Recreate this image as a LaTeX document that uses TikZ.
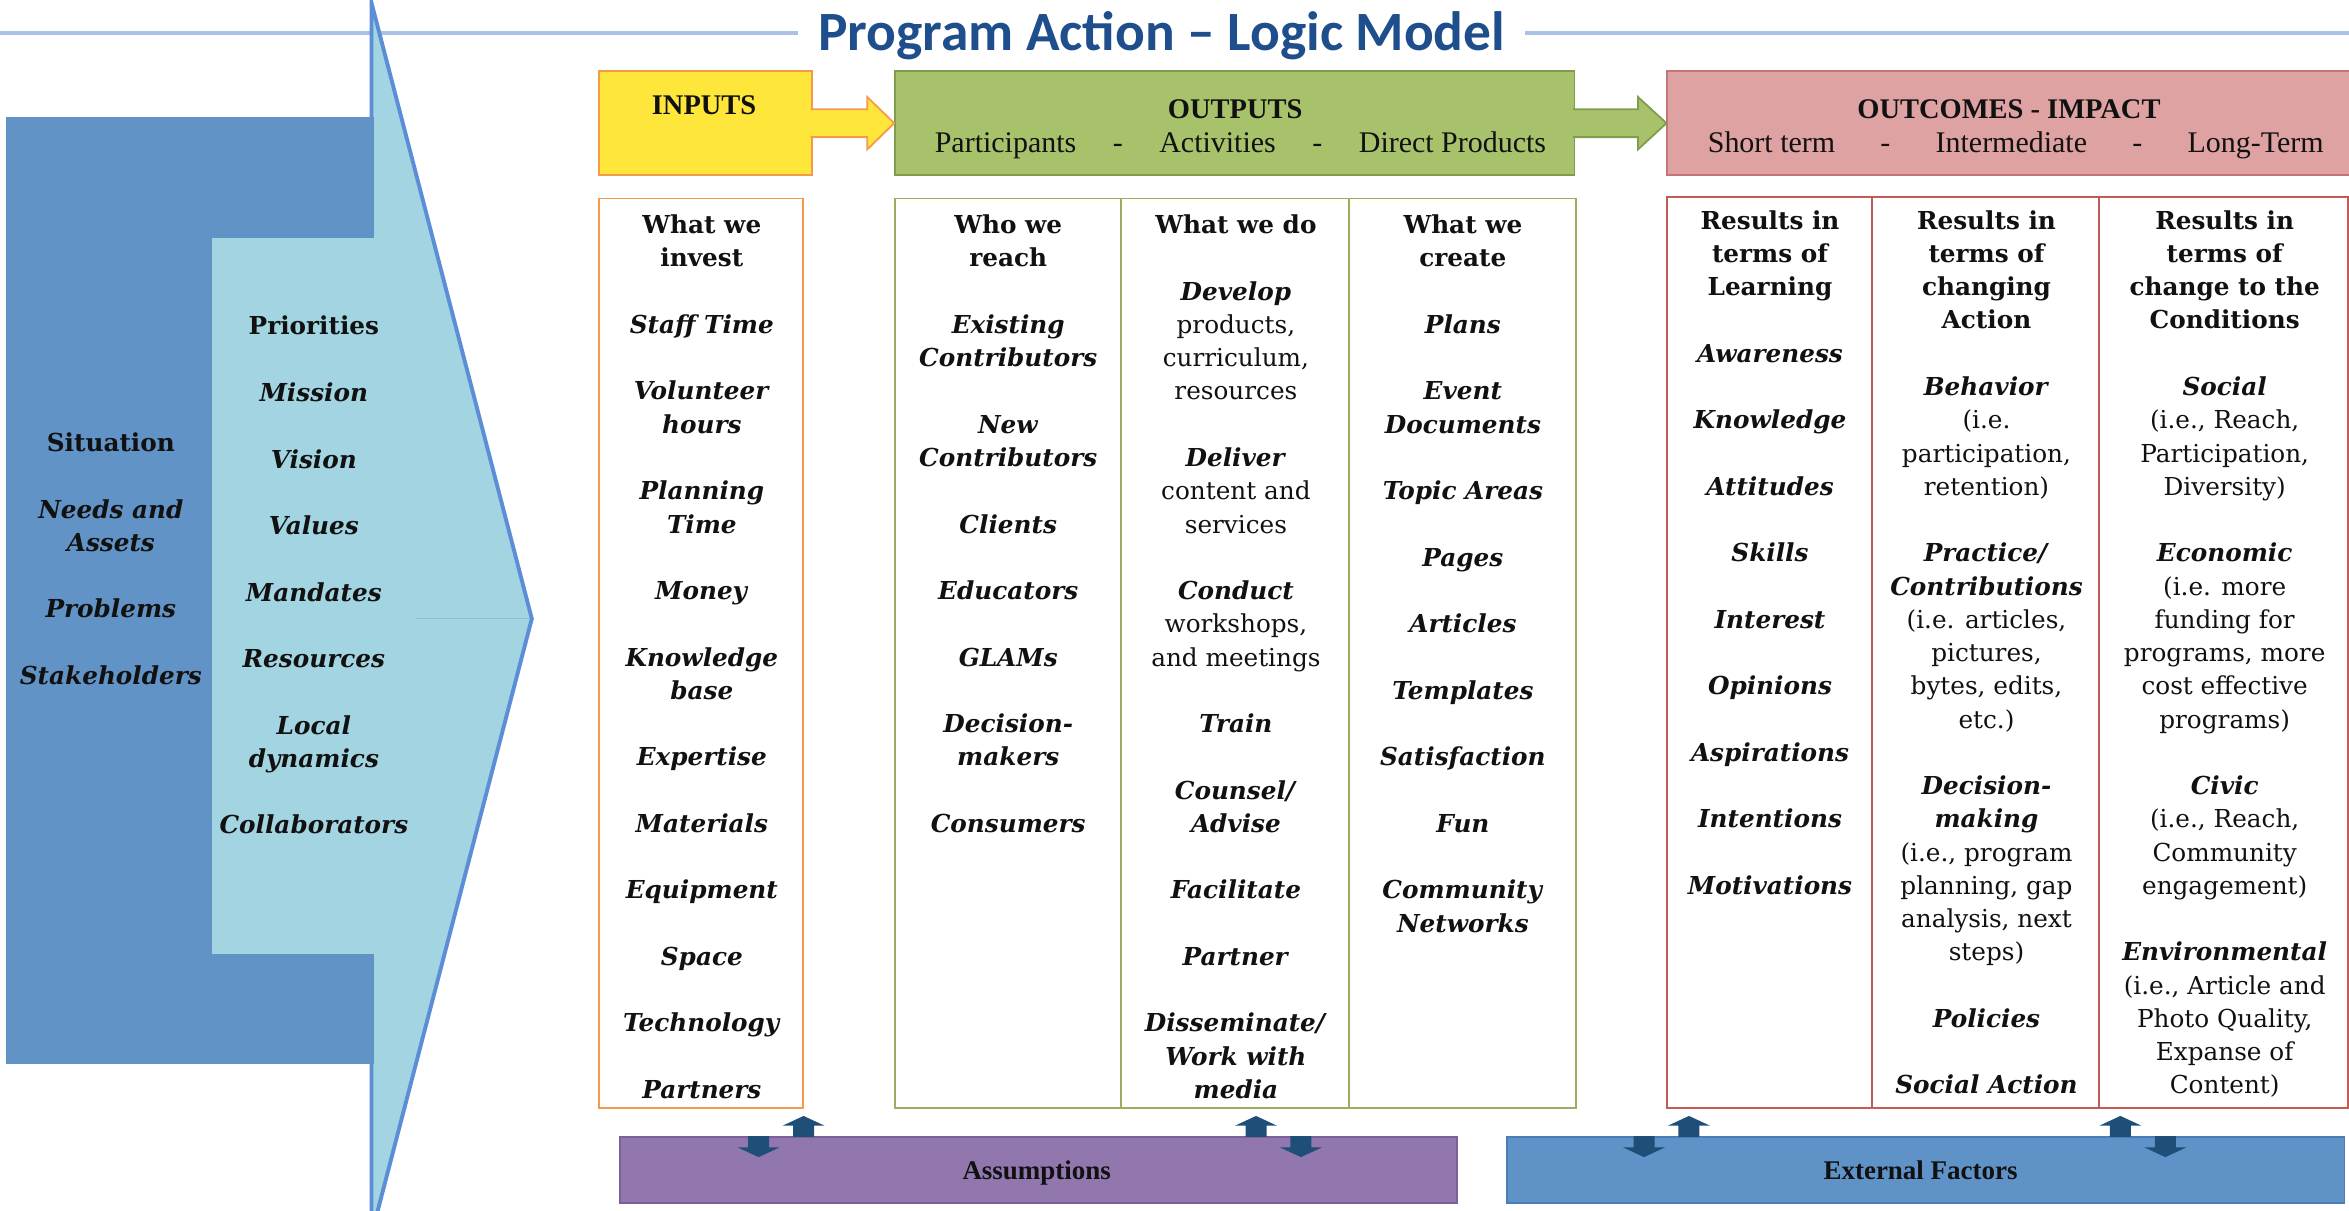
\documentclass[tikz,border=0pt]{standalone}
\usepackage{fontspec}
\setmainfont{DejaVu Serif}
\newfontfamily\hdrfont{Liberation Serif}
\newfontfamily\ttlfont{Carlito}
\usetikzlibrary{calc}

% palette
\definecolor{sitblue}{HTML}{6193C6}
\definecolor{prioblue}{HTML}{A2D4E2}
\definecolor{chevline}{HTML}{5B8ED6}
\definecolor{tipline}{HTML}{8FBFCF}
\definecolor{titleblue}{HTML}{1F4E8C}
\definecolor{ruleblue}{HTML}{A9C1E4}
\definecolor{inyellow}{HTML}{FFE63B}
\definecolor{inorange}{HTML}{F5994C}
\definecolor{outgreen}{HTML}{A7C26B}
\definecolor{outgreenline}{HTML}{819C4B}
\definecolor{tabgreen}{HTML}{9AAF5E}
\definecolor{outpink}{HTML}{DFA2A2}
\definecolor{outpinkline}{HTML}{C47676}
\definecolor{tabred}{HTML}{C25A57}
\definecolor{assumpurple}{HTML}{9177AD}
\definecolor{assumline}{HTML}{7A619A}
\definecolor{extblue}{HTML}{5F92C7}
\definecolor{extline}{HTML}{4A7CB6}
\definecolor{arrowdark}{HTML}{1F4E79}
\definecolor{ink}{HTML}{111111}

% column text helpers
\newcommand{\itb}[1]{\textit{#1}}
\newcommand{\rgl}[1]{{\mdseries #1}}
\newcommand{\lgap}{\\[22.2pt]}
\newcommand{\colfont}{\fontsize{16.5}{22.2}\selectfont\bfseries}
\newcommand{\coltext}[1]{\parbox[t]{210pt}{\centering\colfont #1}}

\begin{document}
\begin{tikzpicture}[x=1pt,y=-1pt,
  colnode/.style={anchor=base, inner sep=0pt, text=ink},
  hdrbox/.style={rectangle, line width=1.2pt, minimum height=69.5pt, inner sep=0pt},
  tabbox/.style={rectangle, fill=white, line width=1.3pt, minimum height=607pt, inner sep=0pt},
  hdrlabel/.style={anchor=base, inner sep=0pt, text=ink, font=\hdrfont\bfseries\fontsize{19}{22}\selectfont},
  hdrsub/.style={anchor=base, inner sep=0pt, text=ink, font=\hdrfont\fontsize{20}{22}\selectfont},
  ftbox/.style={rectangle, line width=1.2pt, minimum height=44pt, inner sep=0pt},
  ftlabel/.style={anchor=base, inner sep=0pt, text=ink, font=\hdrfont\bfseries\fontsize{18}{20}\selectfont},
  smallarr/.style={fill=arrowdark},
  yelarrow/.style={fill=inyellow, draw=inorange, line width=1.2pt, line join=miter},
  grnarrow/.style={fill=outgreen, draw=outgreenline, line width=1.2pt, line join=miter},
  divider/.style={line width=1.3pt}
]
\useasboundingbox (0,0) rectangle (1568,807.7);
\clip (0,0) rectangle (1568,807.7);

% ---------- title with rule ----------
\coordinate (ruleL) at (0,22);
\coordinate (ruleR) at (1568,22);
\node[anchor=base, inner xsep=13pt, inner ysep=0pt, text=titleblue,
      font=\ttlfont\bfseries\fontsize{37}{42}\selectfont] (title) at (775.5,34)
      {Program Action – Logic Model};
\draw[ruleblue, line width=2.2pt] (ruleL) -- (ruleL -| title.west);
\draw[ruleblue, line width=2.2pt] (ruleR -| title.east) -- (ruleR);

% ---------- situation / priorities chevron ----------
\fill[prioblue] (248,2) -- (355,413) -- (248,824) -- cycle;
\draw[chevline, line width=2.6pt, line join=miter] (248,2) -- (355,413) -- (248,824) -- cycle;
\fill[sitblue] (4,78) rectangle (249.6,710);
\fill[prioblue] (141.5,159) rectangle (249.6,637);
\draw[tipline, line width=0.8pt] (278,413) -- (353,413);

\node[colnode] (sitCol) at (74,301.5) {\coltext{Situation\lgap
  \itb{Needs and}\\ \itb{Assets}\lgap \itb{Problems}\lgap \itb{Stakeholders}}};
\node[colnode] (prioCol) at (209.5,223.6) {\coltext{Priorities\lgap
  \itb{Mission}\lgap \itb{Vision}\lgap \itb{Values}\lgap \itb{Mandates}\lgap
  \itb{Resources}\lgap \itb{Local}\\ \itb{dynamics}\lgap \itb{Collaborators}}};

% ---------- header boxes ----------
\node[hdrbox, fill=inyellow, draw=inorange, minimum width=142pt] (inputs) at (471,82.25) {};
\node[hdrbox, fill=outgreen, draw=outgreenline, minimum width=453.5pt] (outputs) at (824.25,82.25) {};
\node[hdrbox, fill=outpink, draw=outpinkline, minimum width=462pt] (outcomes) at (1344,82.25) {};

% block arrows between the header boxes
\filldraw[yelarrow] ($(inputs.east)+(-1.5,-9.3)$) -- ($(outputs.west)+(-18,-9.3)$)
  -- ($(outputs.west)+(-18,-17.5)$) -- (outputs.west) -- ($(outputs.west)+(-18,17.5)$)
  -- ($(outputs.west)+(-18,9.3)$) -- ($(inputs.east)+(-1.5,9.3)$);
\filldraw[grnarrow] ($(outputs.east)+(-1.5,-9.3)$) -- ($(outcomes.west)+(-19,-9.3)$)
  -- ($(outcomes.west)+(-19,-17.5)$) -- (outcomes.west) -- ($(outcomes.west)+(-19,17.5)$)
  -- ($(outcomes.west)+(-19,9.3)$) -- ($(outputs.east)+(-1.5,9.3)$);

\node[hdrlabel] (inputsLbl) at (470,76.7) {INPUTS};
\node[hdrlabel] (outputsLbl) at (824.5,79) {OUTPUTS};
\node[hdrsub] (outputsSub) at (828,101.5)
  {\hbox to 408pt{Participants\hfill-\hfill Activities\hfill-\hfill Direct Products}};
\node[hdrlabel] (outcomesLbl) at (1341,79) {OUTCOMES - IMPACT};
\node[hdrsub] (outcomesSub) at (1345.5,101.5)
  {\hbox to 411pt{Short term\hfill-\hfill Intermediate\hfill-\hfill Long-Term}};

% ---------- tables ----------
\node[tabbox, draw=inorange, minimum width=136pt] (intab) at (468,436) {};
\node[tabbox, draw=tabgreen, minimum width=454.5pt] (outtab) at (824.75,436) {};
\node[tabbox, draw=tabred, minimum width=454pt, minimum height=608pt] (octab) at (1340,435.5) {};
\draw[divider, tabgreen] ($(outtab.north west)+(151.5,0)$) -- ($(outtab.south west)+(151.5,0)$);
\draw[divider, tabgreen] ($(outtab.north west)+(303.5,0)$) -- ($(outtab.south west)+(303.5,0)$);
\draw[divider, tabred] ($(octab.north west)+(137,0)$) -- ($(octab.south west)+(137,0)$);
\draw[divider, tabred] ($(octab.north west)+(289,0)$) -- ($(octab.south west)+(289,0)$);

\node[colnode] (investCol) at (468.5,156) {\coltext{What we\\ invest\lgap
  \itb{Staff Time}\lgap \itb{Volunteer}\\ \itb{hours}\lgap \itb{Planning}\\ \itb{Time}\lgap
  \itb{Money}\lgap \itb{Knowledge}\\ \itb{base}\lgap \itb{Expertise}\lgap \itb{Materials}\lgap
  \itb{Equipment}\lgap \itb{Space}\lgap \itb{Technology}\lgap \itb{Partners}}};

\node[colnode] (reachCol) at (673,156) {\coltext{Who we\\ reach\lgap
  \itb{Existing}\\ \itb{Contributors}\lgap \itb{New}\\ \itb{Contributors}\lgap
  \itb{Clients}\lgap \itb{Educators}\lgap \itb{GLAMs}\lgap \itb{Decision-}\\ \itb{makers}\lgap
  \itb{Consumers}}};

\node[colnode] (doCol) at (825,156) {\coltext{What we do\lgap
  \itb{Develop}\\ \rgl{products,}\\ \rgl{curriculum,}\\ \rgl{resources}\lgap
  \itb{Deliver}\\ \rgl{content and}\\ \rgl{services}\lgap
  \itb{Conduct}\\ \rgl{workshops,}\\ \rgl{and meetings}\lgap
  \itb{Train}\lgap \itb{Counsel/}\\ \itb{Advise}\lgap \itb{Facilitate}\lgap \itb{Partner}\lgap
  \itb{Disseminate/}\\ \itb{Work with}\\ \itb{media}}};

\node[colnode] (createCol) at (976.5,156) {\coltext{What we\\ create\lgap
  \itb{Plans}\lgap \itb{Event}\\ \itb{Documents}\lgap \itb{Topic Areas}\lgap \itb{Pages}\lgap
  \itb{Articles}\lgap \itb{Templates}\lgap \itb{Satisfaction}\lgap \itb{Fun}\lgap
  \itb{Community}\\ \itb{Networks}}};

\node[colnode] (learnCol) at (1181.5,153) {\coltext{Results in\\ terms of\\ Learning\lgap
  \itb{Awareness}\lgap \itb{Knowledge}\lgap \itb{Attitudes}\lgap \itb{Skills}\lgap
  \itb{Interest}\lgap \itb{Opinions}\lgap \itb{Aspirations}\lgap \itb{Intentions}\lgap
  \itb{Motivations}}};

\node[colnode] (actionCol) at (1326,153) {\coltext{Results in\\ terms of\\ changing\\ Action\lgap
  \itb{Behavior}\\ \rgl{(i.e.}\\ \rgl{participation,}\\ \rgl{retention)}\lgap
  \itb{Practice/}\\ \itb{Contributions}\\ \rgl{(i.e. articles,}\\ \rgl{pictures,}\\
  \rgl{bytes, edits,}\\ \rgl{etc.)}\lgap
  \itb{Decision-}\\ \itb{making}\\ \rgl{(i.e., program}\\ \rgl{planning, gap}\\
  \rgl{analysis, next}\\ \rgl{steps)}\lgap
  \itb{Policies}\lgap \itb{Social Action}}};

\node[colnode] (condCol) at (1485,153) {\coltext{Results in\\ terms of\\ change to the\\ Conditions\lgap
  \itb{Social}\\ \rgl{(i.e., Reach,}\\ \rgl{Participation,}\\ \rgl{Diversity)}\lgap
  \itb{Economic}\\ \rgl{(i.e. more}\\ \rgl{funding for}\\ \rgl{programs, more}\\
  \rgl{cost effective}\\ \rgl{programs)}\lgap
  \itb{Civic}\\ \rgl{(i.e., Reach,}\\ \rgl{Community}\\ \rgl{engagement)}\lgap
  \itb{Environmental}\\ \rgl{(i.e., Article and}\\ \rgl{Photo Quality,}\\
  \rgl{Expanse of}\\ \rgl{Content)}}};

% ---------- footer boxes ----------
\node[ftbox, fill=assumpurple, draw=assumline, minimum width=558.5pt] (assump) at (693.25,781) {};
\node[ftbox, fill=extblue, draw=extline, minimum width=559pt] (external) at (1285.5,781) {};
\node[ftlabel] (assumpLbl) at (692,787.5) {Assumptions};
\node[ftlabel] (externalLbl) at (1282,787.5) {External Factors};

% small two-way arrows between the footer boxes and the tables
\foreach \fb/\dx in {assump/123, assump/425, external/122, external/410}{
  \fill[smallarr, shift={($(\fb.north west)+(\dx,0)$)}]
    (-7,0.5) -- (-7,-7) -- (-14,-7) -- (0,-13.5) -- (14,-7) -- (7,-7) -- (7,0.5) -- cycle;
}
\foreach \fb/\dx in {assump/93, assump/455, external/92, external/440}{
  \fill[smallarr, shift={($(\fb.north west)+(\dx,0)$)}]
    (-7,0) -- (-7,7.5) -- (-14,7.5) -- (0,14) -- (14,7.5) -- (7,7.5) -- (7,0) -- cycle;
}
\end{tikzpicture}
\end{document}
